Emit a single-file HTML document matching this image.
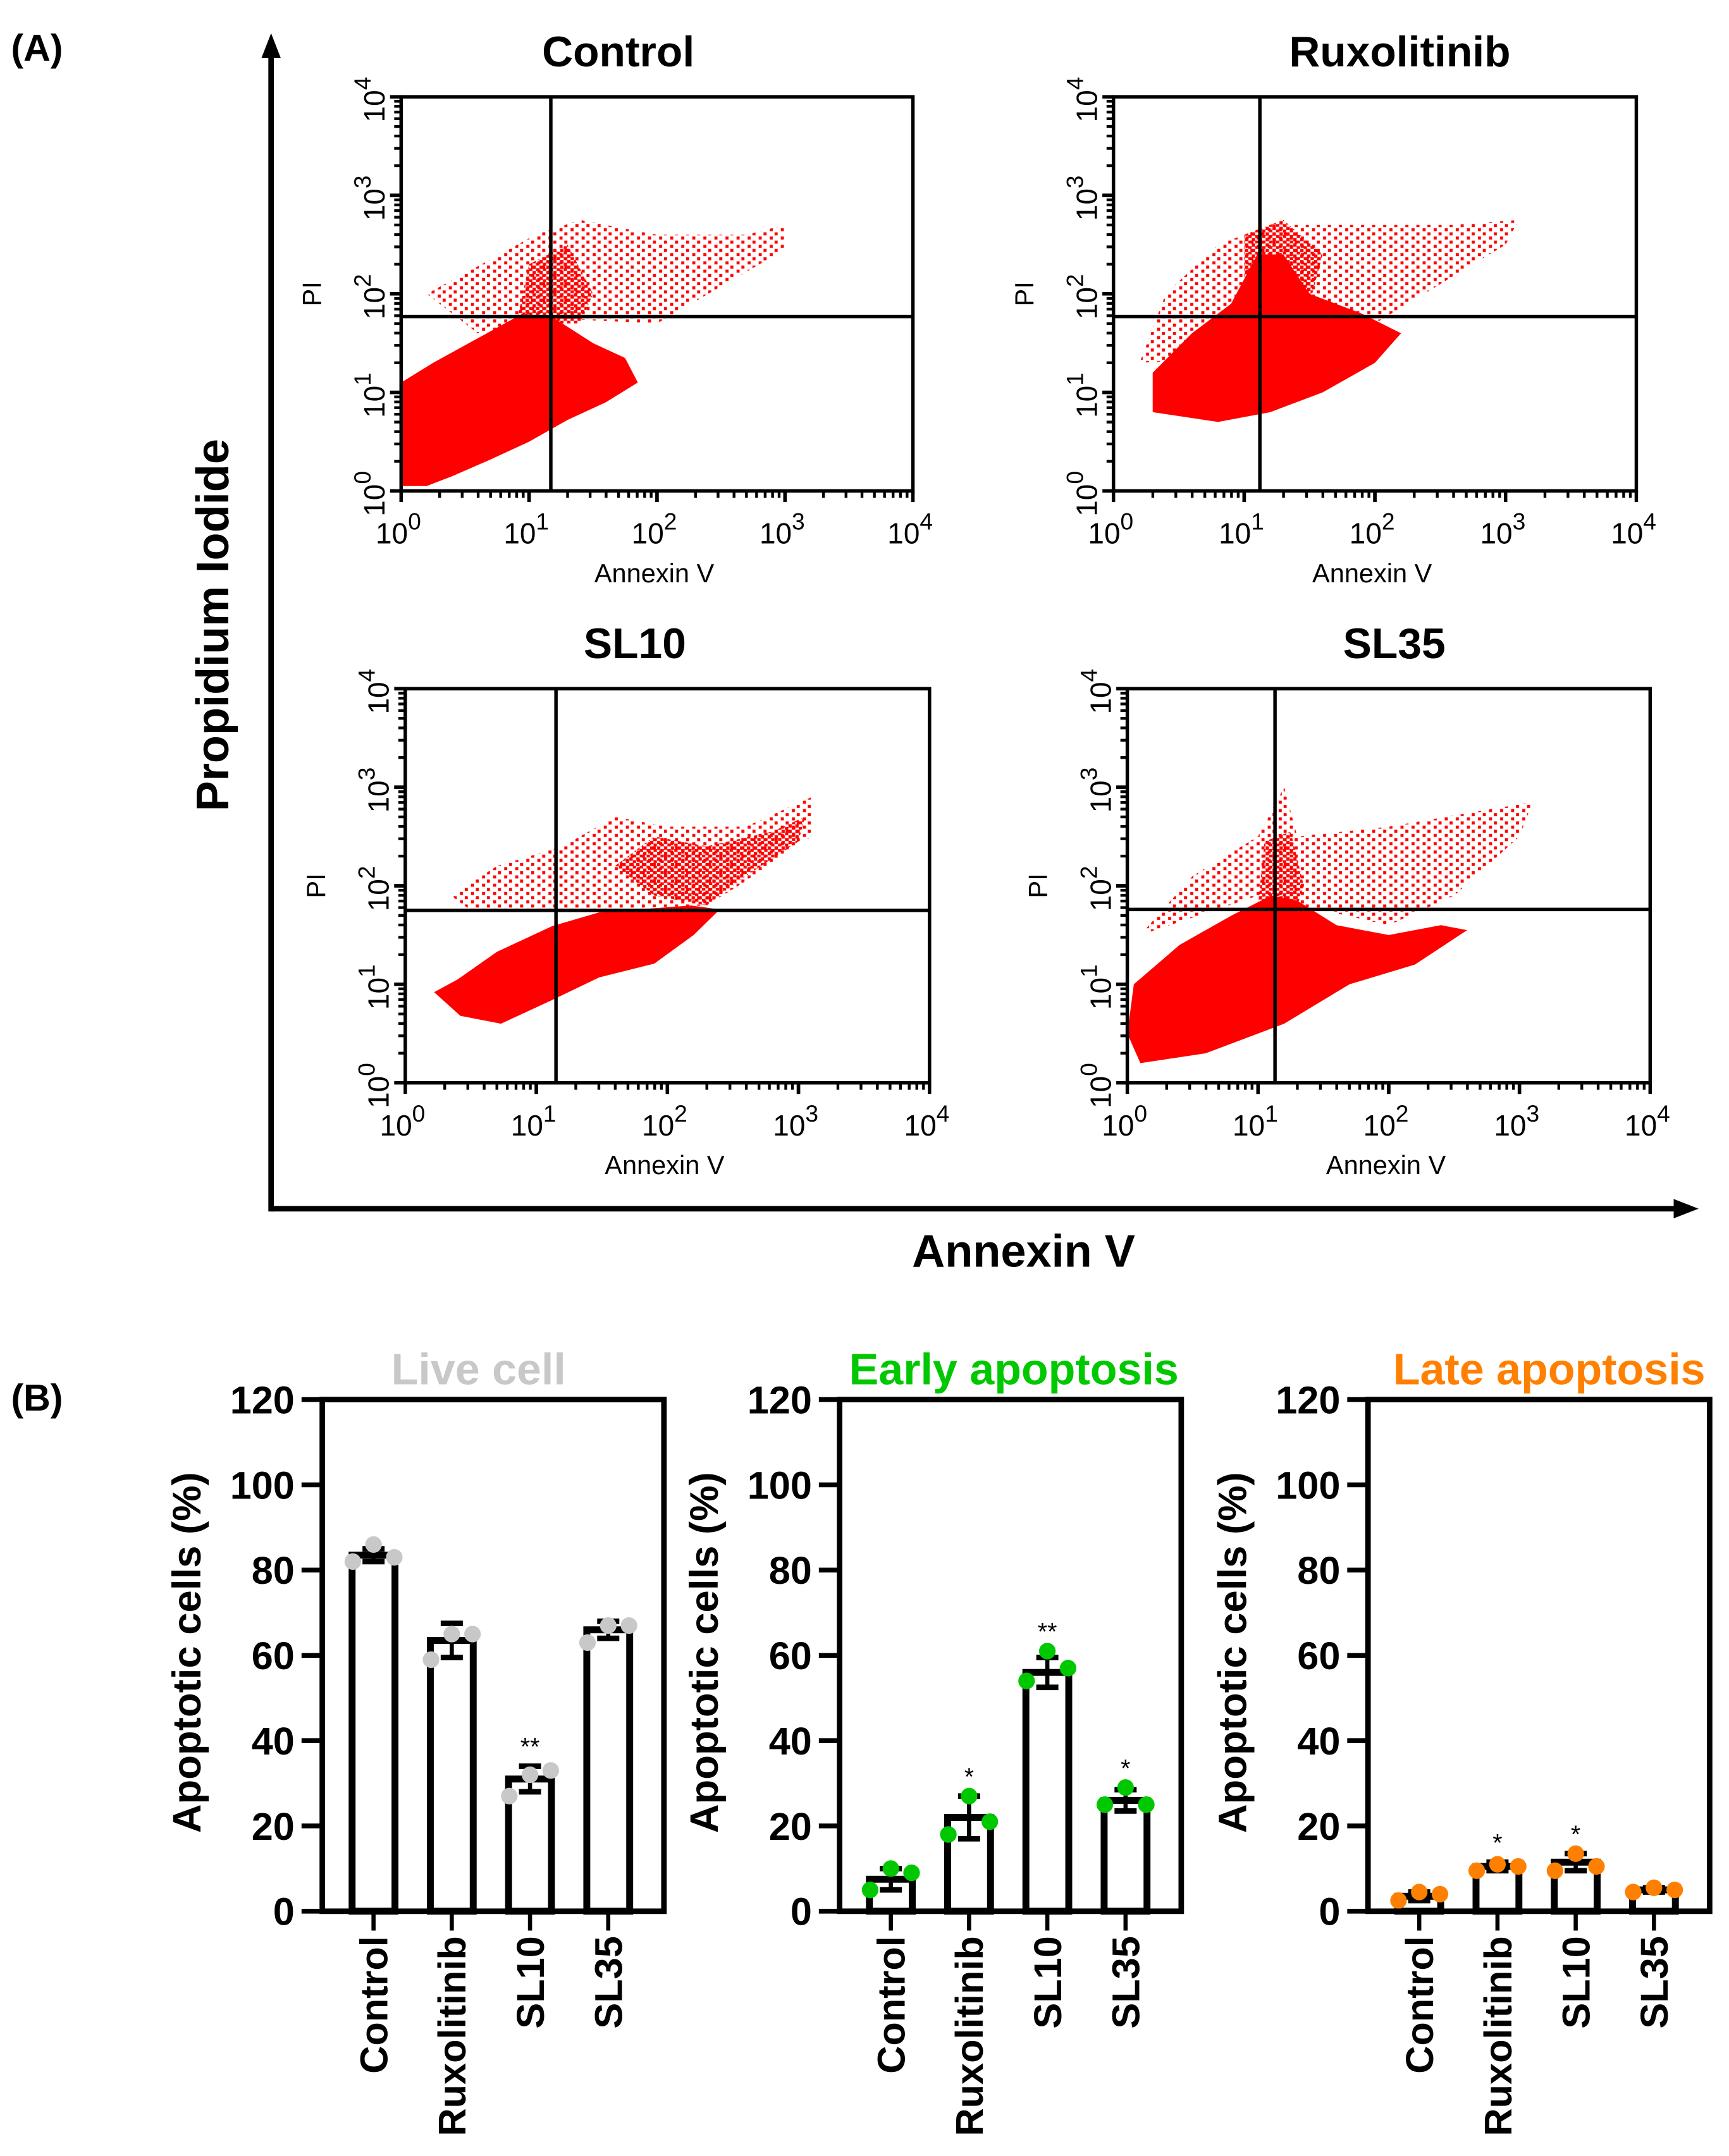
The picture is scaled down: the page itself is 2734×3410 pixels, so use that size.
<!DOCTYPE html>
<html><head><meta charset="utf-8">
<style>
html,body{margin:0;padding:0;background:#fff;}
svg{display:block;}
text{font-family:"Liberation Sans",Arial,sans-serif;}
</style></head>
<body>
<svg id="fig" width="2734" height="3410" viewBox="0 0 1250 1559" preserveAspectRatio="none" xmlns="http://www.w3.org/2000/svg">
<defs>
<pattern id="sparse" width="8" height="6" patternUnits="userSpaceOnUse">
<rect x="0" y="0" width="2.2" height="2.2" fill="#f00"/>
<rect x="4.5" y="3" width="2.2" height="2.2" fill="#f00"/>
</pattern>
<pattern id="medium" width="5" height="4" patternUnits="userSpaceOnUse">
<rect x="0" y="0" width="2.4" height="2.4" fill="#f00"/>
<rect x="2.5" y="2" width="2.4" height="2" fill="#f00"/>
</pattern>
</defs>
<text x="8" y="44" font-size="27" font-weight="bold">(A)</text>
<text x="8" y="1020" font-size="27" font-weight="bold">(B)</text>
<g>
<line x1="196" y1="40" x2="196" y2="876" stroke="#000" stroke-width="4"/>
<polygon points="196,24 189,42 203,42" fill="#000"/>
<line x1="196" y1="874" x2="1212" y2="874" stroke="#000" stroke-width="4"/>
<polygon points="1228,874 1210,867 1210,881" fill="#000"/>
<text x="165" y="452" font-size="33" font-weight="bold" text-anchor="middle" transform="rotate(-90 165 452)">Propidium Iodide</text>
<text x="740" y="916" font-size="33" font-weight="bold" text-anchor="middle">Annexin V</text>
</g>
<g id="flow"></g>
<g id="bars"></g>
</svg>
<script>
// ---- Flow cytometry panels (decade coordinates: log10 Annexin V, log10 PI) ----
const flowTitles = ["Control","Ruxolitinib","SL10","SL35"];
const flowGateX = [1.17, 1.12, 1.15, 1.13];
const flowGateY = [1.77, 1.77, 1.75, 1.76];
const denseControl = [[0,0.05],[0,1.1],[0.25,1.3],[0.6,1.55],[0.95,1.8],[1.2,1.75],[1.5,1.5],[1.75,1.35],[1.85,1.1],[1.6,0.9],[1.3,0.72],[1.0,0.5],[0.7,0.32],[0.4,0.15],[0.2,0.05]];
const mediumControl = [[0.9,1.7],[1.0,2.3],[1.3,2.5],[1.5,2.0],[1.4,1.7]];
const sparseControl = [[0.2,2.0],[0.7,2.35],[1.05,2.6],[1.4,2.75],[2.0,2.6],[2.7,2.6],[3.0,2.7],[3.0,2.45],[2.4,2.0],[2.0,1.7],[1.2,1.75],[0.6,1.6]];
const denseRux = [[0.3,0.8],[0.3,1.2],[0.6,1.6],[0.9,1.9],[1.1,2.4],[1.3,2.4],[1.5,2.0],[1.9,1.8],[2.2,1.6],[2.0,1.3],[1.6,1.0],[1.2,0.8],[0.8,0.7]];
const mediumRux = [[1.0,1.8],[1.0,2.6],[1.3,2.75],[1.6,2.4],[1.5,1.9]];
const sparseRux = [[0.2,1.3],[0.4,2.0],[0.8,2.5],[1.2,2.7],[1.8,2.7],[2.6,2.7],[3.1,2.75],[3.0,2.5],[2.5,2.1],[2.0,1.7],[1.5,1.4]];
const denseSL10 = [[0.22,0.92],[0.4,1.05],[0.7,1.33],[1.12,1.59],[1.48,1.73],[2.18,1.8],[2.4,1.76],[2.2,1.5],[1.9,1.21],[1.48,1.07],[1.12,0.84],[0.73,0.6],[0.42,0.68]];
const mediumSL10 = [[1.6,2.2],[1.9,2.5],[2.3,2.4],[2.8,2.55],[3.05,2.7],[3.0,2.45],[2.6,2.1],[2.3,1.8],[1.9,1.9]];
const sparseSL10 = [[0.35,1.9],[0.7,2.2],[1.2,2.4],[1.6,2.7],[2.0,2.6],[2.6,2.6],[3.1,2.9],[3.1,2.5],[2.6,2.05],[2.3,1.8],[1.2,1.75],[0.5,1.75]];
const denseSL35 = [[0,0.5],[0.05,1.0],[0.4,1.4],[0.8,1.7],[1.1,1.9],[1.3,1.85],[1.6,1.6],[2.0,1.5],[2.4,1.6],[2.6,1.55],[2.2,1.2],[1.7,1.0],[1.2,0.6],[0.6,0.3],[0.1,0.2]];
const mediumSL35 = [[1.0,1.8],[1.05,2.45],[1.25,2.55],[1.35,2.0],[1.3,1.8]];
const sparseSL35 = [[0.1,1.5],[0.5,2.1],[1.0,2.5],[1.2,3.0],[1.3,2.5],[2.0,2.6],[3.1,2.85],[3.0,2.5],[2.5,1.9],[2.0,1.6],[1.0,1.9]];
const flowDense = [denseControl, denseRux, denseSL10, denseSL35];
const flowMedium = [mediumControl, mediumRux, mediumSL10, mediumSL35];
const flowSparse = [sparseControl, sparseRux, sparseSL10, sparseSL35];
const flowBoxes = [[290,70,370,285],[805,70,378,285],[293,498,379,285],[815,498,378,285]];
const flowTitleX = [447,1012,459,1008];

const NS = "http://www.w3.org/2000/svg";
function mk(tag, attrs, parent){const e=document.createElementNS(NS,tag);for(const k in attrs)e.setAttribute(k,attrs[k]);parent.appendChild(e);return e;}

const flowG = document.getElementById('flow');
flowBoxes.forEach((b,i)=>{
  const [ox,oy,w,h]=b;
  const sx=d=>ox+d/4*w, sy=d=>oy+h-d/4*h;
  const g=mk('g',{},flowG);
  
  
  const t=mk('text',{x:flowTitleX[i],y:oy-22,'font-size':31,'font-weight':'bold','text-anchor':'middle'},g);
  t.textContent=flowTitles[i];
  
  
  const sp=mk('polygon',{points:flowSparse[i].map(p=>sx(p[0])+','+sy(p[1])).join(' '),fill:'url(#sparse)'},g);
  
  
  const md=mk('polygon',{points:flowMedium[i].map(p=>sx(p[0])+','+sy(p[1])).join(' '),fill:'url(#medium)'},g);
  
  
  const dn=mk('polygon',{points:flowDense[i].map(p=>sx(p[0])+','+sy(p[1])).join(' '),fill:'#f00'},g);
  
  
  mk('rect',{x:ox,y:oy,width:w,height:h,fill:'none',stroke:'#000','stroke-width':2.5},g);
  const gx=mk('line',{x1:sx(flowGateX[i]),x2:sx(flowGateX[i]),y1:oy,y2:oy+h,stroke:'#000','stroke-width':2.5},g);
  
  
  const gy=mk('line',{x1:ox,x2:ox+w,y1:sy(flowGateY[i]),y2:sy(flowGateY[i]),stroke:'#000','stroke-width':2.5},g);
  
  
  for(let d=0;d<4;d++){for(let m=1;m<=10;m++){
    const v=d+Math.log10(m); const major=(m===1||m===10);
    const len=major?8:5;
    mk('line',{x1:sx(v),x2:sx(v),y1:oy+h,y2:oy+h+len,stroke:'#000','stroke-width':major?2.5:2},g);
    mk('line',{x1:ox,x2:ox-len,y1:sy(v),y2:sy(v),stroke:'#000','stroke-width':major?2.5:2},g);
  }}
  for(let d=0;d<=4;d++){
    const tx=mk('text',{x:sx(d)-2,y:oy+h+38,'font-size':21,'text-anchor':'middle'},g);
    tx.innerHTML='10<tspan dy="-10" font-size="17">'+d+'</tspan>';
    
    
    const yx=ox-12, yy=sy(d)+2;
    const ty=mk('text',{x:yx,y:yy,'font-size':21,'text-anchor':'middle',transform:'rotate(-90 '+yx+' '+yy+')'},g);
    ty.innerHTML='10<tspan dy="-10" font-size="17">'+d+'</tspan>';
    
    
  }
  const pi=mk('text',{x:ox-58,y:oy+h/2,'font-size':19,'text-anchor':'middle',transform:'rotate(-90 '+(ox-58)+' '+(oy+h/2)+')'},g);
  pi.textContent='PI';
  
  
  const ax=mk('text',{x:ox+w/2-2,y:oy+h+66,'font-size':19,'text-anchor':'middle'},g);
  ax.textContent='Annexin V';
  
  
});

// ---- Bar charts ----
const categories = ["Control","Ruxolitinib","SL10","SL35"];
const liveMean = [83.5, 63.5, 31, 66];
const liveErr = [1.5, 4, 3, 2];
const livePts = [[82,86,83],[59,65,65],[27,32,33],[63,67,67]];
const liveSig = ["","","**",""];
const earlyMean = [7.5, 22, 56, 26];
const earlyErr = [2.5, 5, 3.5, 2.5];
const earlyPts = [[5,10,9],[18,27,21],[54,61,57],[25,29,25]];
const earlySig = ["","*","**","*"];
const lateMean = [3.5, 10.5, 11.5, 5];
const lateErr = [1, 1, 2, 0.5];
const latePts = [[2.5,4.5,4],[9.5,11,10.5],[9.5,13.5,10.5],[4.5,5.5,5]];
const lateSig = ["","*","*",""];
const yTicks = [0,20,40,60,80,100,120];

const barCharts = [
  {name:'live-cell',title:'Live cell',color:'#c8c8c8',x0:233,x1:480,tx:346,mean:liveMean,err:liveErr,pts:livePts,sig:liveSig},
  {name:'early-apoptosis',title:'Early apoptosis',color:'#00c800',x0:607,x1:854,tx:733,mean:earlyMean,err:earlyErr,pts:earlyPts,sig:earlySig},
  {name:'late-apoptosis',title:'Late apoptosis',color:'#ff8000',x0:989,x1:1236,tx:1120,mean:lateMean,err:lateErr,pts:latePts,sig:lateSig}
];
const barG=document.getElementById('bars');
const yTop=1012, yBot=1382;
const yS=v=>yBot-(v/120)*(yBot-yTop);
barCharts.forEach(c=>{
  const g=mk('g',{},barG);
  
  
  const w=c.x1-c.x0;
  const xS=i=>c.x0+w*(0.15+i*0.229);
  const t=mk('text',{x:c.tx,y:1001,'font-size':32,'font-weight':'bold','text-anchor':'middle',fill:c.color},g);
  t.textContent=c.title;
  
  
  const yl=c.x0-88;
  const yt=mk('text',{x:yl,y:1195,'font-size':29,'font-weight':'bold','text-anchor':'middle',transform:'rotate(-90 '+yl+' 1195)'},g);
  yt.textContent='Apoptotic cells (%)';
  
  
  yTicks.forEach(v=>{
    mk('line',{x1:c.x0-15,x2:c.x0,y1:yS(v),y2:yS(v),stroke:'#000','stroke-width':3.5},g);
    const tl=mk('text',{x:c.x0-20,y:yS(v)+10,'font-size':28,'font-weight':'bold','text-anchor':'end'},g);
    tl.textContent=v;
    
    
  });
  c.mean.forEach((m,i)=>{
    const cx=xS(i);
    const bar=mk('rect',{x:cx-15.5,y:yS(m),width:31,height:yBot-yS(m),fill:'#fff',stroke:'#000','stroke-width':5},g);
    
    
    const eb=mk('g',{},g);
    
    
    mk('line',{x1:cx,x2:cx,y1:yS(m-c.err[i]),y2:yS(m+c.err[i]),stroke:'#000','stroke-width':3},eb);
    mk('line',{x1:cx-8,x2:cx+8,y1:yS(m+c.err[i]),y2:yS(m+c.err[i]),stroke:'#000','stroke-width':4},eb);
    mk('line',{x1:cx-8,x2:cx+8,y1:yS(m-c.err[i]),y2:yS(m-c.err[i]),stroke:'#000','stroke-width':4},eb);
    c.pts[i].forEach((p,k)=>{
      const dot=mk('circle',{cx:cx+(k-1)*15,cy:yS(p),r:6,fill:c.color},g);
      
      
    });
    if(c.sig[i]){
      const top=Math.max(m+c.err[i],...c.pts[i]);
      const s=mk('text',{x:cx,y:yS(top)-8,'font-size':18,'text-anchor':'middle'},g);
      s.textContent=c.sig[i];
      
      
    }
    mk('line',{x1:cx,x2:cx,y1:yBot,y2:yBot+14,stroke:'#000','stroke-width':3},g);
    const lx=cx+10, ly=1400;
    const cl=mk('text',{x:lx,y:ly,'font-size':28,'font-weight':'bold','text-anchor':'end',transform:'rotate(-90 '+lx+' '+ly+')'},g);
    cl.textContent=categories[i];
    
    
  });
  const frame=mk('rect',{x:c.x0,y:yTop,width:w,height:yBot-yTop,fill:'none',stroke:'#000','stroke-width':4},g);
  
  
});
</script>
</body></html>
